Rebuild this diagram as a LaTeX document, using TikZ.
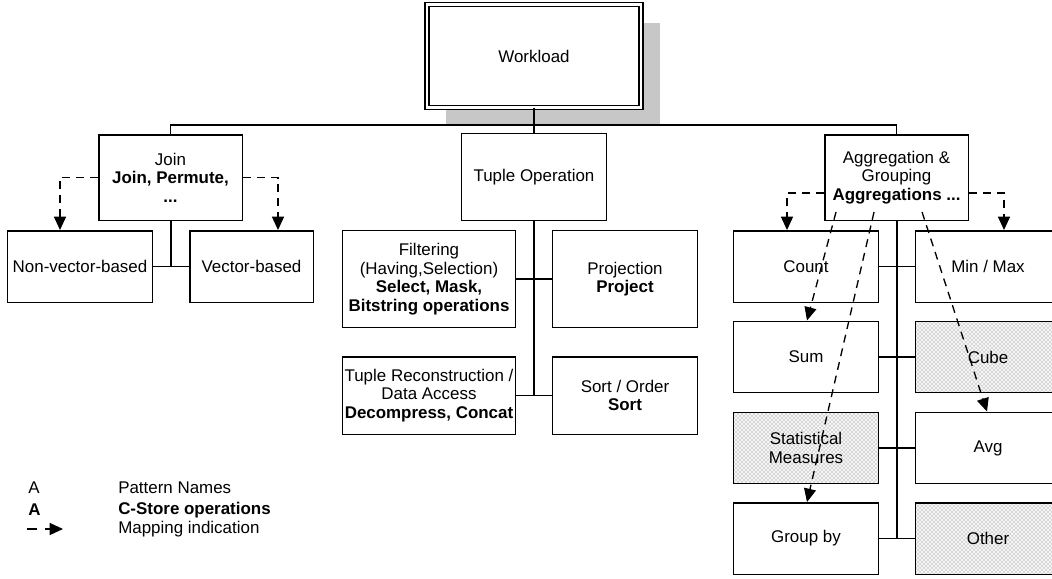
\documentclass[tikz,border=0pt]{standalone}
\usepackage{fontspec}
\setmainfont{Liberation Sans}
\usetikzlibrary{arrows.meta,calc,shadows,patterns}

\begin{document}
\begin{tikzpicture}[x=0.75pt, y=-0.75pt, >={Triangle[length=10pt,width=9pt]},
  font=\fontsize{12.7}{13.9}\selectfont,
  box/.style={draw, line width=1.1pt, align=center, inner sep=1pt,
    minimum width=108.4pt, minimum height=53.6pt},
  grey/.style={box, preaction={fill=black!17},
    preaction={pattern=crosshatch, pattern color=white}},
  link/.style={line width=1pt},
  trunk/.style={line width=1.5pt},
  map/.style={->, line width=1pt, dash pattern=on 6pt off 4.5pt}]
  \useasboundingbox (0,0) rectangle (1052,578);

  % top
  \node[box, double, line width=1pt, double distance=2pt, minimum width=160.3pt,
    minimum height=77pt, fill=white,
    drop shadow={shadow xshift=14pt, shadow yshift=-14pt, fill=black!22, opacity=1}]
    (wl) at (534,56) {Workload};
  \coordinate (bus) at (534,125);

  % join group
  \node[box, minimum width=107.6pt, minimum height=64.1pt] (join) at (170.5,177.5)
    {Join\\\textbf{Join, Permute,}\\\textbf{...}};
  \node[box] (nonvec) at (80,266.5) {Non-vector-based};
  \node[box, minimum width=92.6pt] (vec) at (251.5,266.5) {Vector-based};

  % tuple group
  \node[box, minimum width=108.4pt, minimum height=64.9pt] (tupleop) at (534,177) {Tuple Operation};
  \node[box, minimum width=129.4pt, minimum height=72.4pt] (filter) at (429,279)
    {Filtering\\(Having,Selection)\\\textbf{Select, Mask,}\\\textbf{Bitstring operations}};
  \node[box, minimum height=72.4pt] (proj) at (625,279) {Projection\\\textbf{Project}};
  \node[box, minimum width=129.4pt, minimum height=58.1pt] (recon) at (429,395.5)
    {Tuple Reconstruction /\\Data Access\\\textbf{Decompress, Concat}};
  \node[box, minimum height=58.1pt] (sort) at (625,395.5) {Sort / Order\\\textbf{Sort}};

  % aggregation group
  \node[box, minimum width=107.6pt, minimum height=64.1pt] (aggr) at (896.5,177.5)
    {Aggregation \&\\Grouping\\\textbf{Aggregations ...}};
  \node[box] (count) at (806,266.5) {Count};
  \node[box] (minmax) at (988,266.5) {Min / Max};
  \node[box] (sum) at (806,357) {Sum};
  \node[grey] (cube) at (988,357) {Cube};
  \node[grey] (stat) at (806,448) {Statistical\\Measures};
  \node[box] (avg) at (988,448) {Avg};
  \node[box] (groupby) at (806,538.5) {Group by};
  \node[grey] (other) at (988,538.5) {Other};

  % tree lines
  \draw[link] (join.north) |- (bus) -| (aggr.north);
  \draw[trunk] (wl.south) -- (tupleop.north);
  \draw[trunk] (join.south) -- (join.south |- nonvec.east);
  \draw[link] (nonvec.east) -- (vec.west);
  \draw[trunk] (tupleop.south) -- (tupleop.south |- recon.east);
  \draw[link] (filter.east) -- (proj.west);
  \draw[link] (recon.east) -- (sort.west);
  \draw[trunk] (aggr.south) -- (aggr.south |- groupby.east);
  \draw[link] (count.east) -- (minmax.west);
  \draw[link] (sum.east) -- (cube.west);
  \draw[link] (stat.east) -- (avg.west);
  \draw[link] (groupby.east) -- (other.west);

  % mappings
  \draw[map] (join.west) -| ($(nonvec.north)+(-20,0)$);
  \draw[map] (join.east) -| ($(vec.north)+(26.5,0)$);
  \draw[map] ($(aggr.west)+(0,15.5)$) -| ($(count.north)+(-19,0)$);
  \draw[map] ($(aggr.east)+(0,15.5)$) -| ($(minmax.north)+(16,0)$);
  \draw[map] ($(aggr.south west)+(12,-9)$) -- ($(sum.north)+(1,0)$);
  \draw[map] ($(aggr.south west)+(50,-9)$) -- ($(groupby.north)+(1,0)$);
  \draw[map] ($(aggr.south west)+(98,-9)$) -- ($(avg.north)+(-1,0)$);

  % legend
  \node[anchor=west, inner sep=0pt] (lga) at (28,488) {A};
  \node[anchor=west, inner sep=0pt] (lgpat) at (118,488) {Pattern Names};
  \node[anchor=west, inner sep=0pt] (lgb) at (28,510) {\textbf{A}};
  \node[anchor=west, inner sep=0pt] (lgops) at (118,510) {\textbf{C-Store operations}};
  \coordinate (lgs) at (27,529);
  \coordinate (lge) at (63,529);
  \draw[map, dash pattern=on 7.5pt off 6pt] (lgs) -- (lge);
  \node[anchor=west, inner sep=0pt] (lgmap) at (118,529) {Mapping indication};
\end{tikzpicture}
\end{document}
